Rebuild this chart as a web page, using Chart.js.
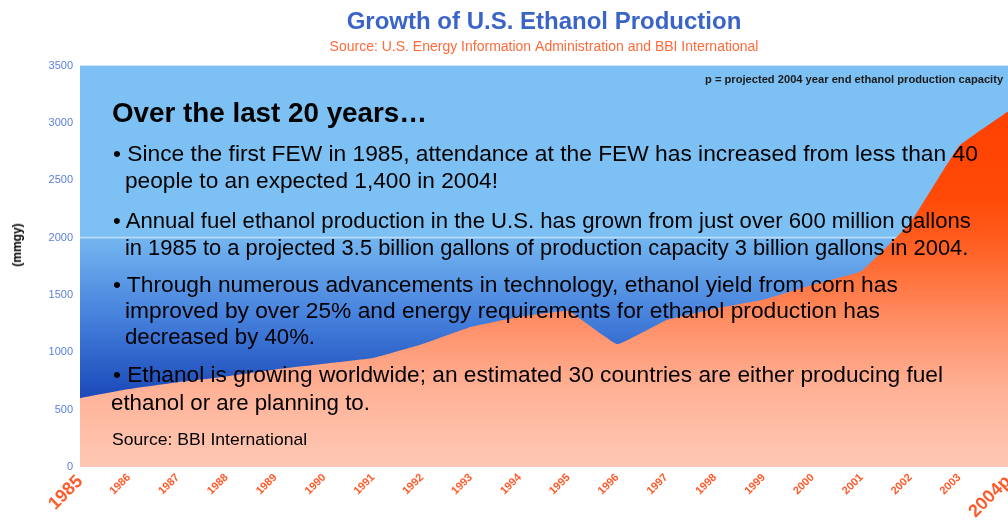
<!DOCTYPE html>
<html>
<head>
<meta charset="utf-8">
<script src="https://cdn.jsdelivr.net/npm/chart.js@4"></script>
<style>
  html, body { margin: 0; padding: 0; background: #fff; }
  #wrap { position: relative; width: 1008px; height: 521px; overflow: hidden;
          font-family: "Liberation Sans", Arial, sans-serif; }
  #wrap canvas { position: absolute; left: 0; top: 0; }
  .txt { position: absolute; white-space: nowrap; color: #000; line-height: 1;
         transform-origin: 0 50%; }
</style>
</head>
<body>
<div id="wrap"><canvas id="chart" width="1008" height="521"></canvas></div>
<script>
// ── data (million gallons per year) ─────────────────────────────────────────
const years = ["1985", "1986", "1987", "1988", "1989", "1990", "1991", "1992", "1993", "1994",
               "1995", "1996", "1997", "1998", "1999", "2000", "2001", "2002", "2003", "2004p"];
const production = [600, 680, 740, 790, 850, 900, 950, 1070, 1220, 1310,
                     1360, 1070, 1280, 1380, 1460, 1590, 1710, 2130, 2800, 3100];
const yMax  = 3500;
const yStep = 500;

const FONT = '"Liberation Sans", Arial, sans-serif';

// text box laid over the plot
const notes = [
  { text: "Over the last 20 years\u2026", left: 112, mid: 113, right: 427, size: 27, bold: true },
  { text: "\u2022 Since the first FEW in 1985, attendance at the FEW has increased from less than 40", left: 113, mid: 153.5, right: 978, size: 22 },
  { text: "people to an expected 1,400 in 2004!", left: 125, mid: 181, right: 498, size: 22 },
  { text: "\u2022 Annual fuel ethanol production in the U.S. has grown from just over 600 million gallons", left: 113, mid: 220.5, right: 971, size: 22 },
  { text: "in 1985 to a projected 3.5 billion gallons of production capacity 3 billion gallons in 2004.", left: 125, mid: 247.5, right: 968, size: 22 },
  { text: "\u2022 Through numerous advancements in technology, ethanol yield from corn has", left: 113, mid: 285, right: 898, size: 22 },
  { text: "improved by over 25% and energy requirements for ethanol production has", left: 125, mid: 311, right: 880, size: 22 },
  { text: "decreased by 40%.", left: 125, mid: 337, right: 315, size: 22 },
  { text: "\u2022 Ethanol is growing worldwide; an estimated 30 countries are either producing fuel", left: 113, mid: 375, right: 943, size: 22 },
  { text: "ethanol or are planning to.", left: 111, mid: 402.5, right: 370, size: 22 },
  { text: "Source: BBI International", left: 112, mid: 439, right: 307, size: 17 },
  { text: "p = projected 2004 year end ethanol production capacity", left: 705, mid: 80, right: 1003, size: 10, bold: true, color: "#1a1a1a" },
];

// sky-blue backdrop, darkening below the 2000 line
const plotBackground = {
  id: "plotBackground",
  beforeDatasetsDraw(chart) {
    const { ctx, chartArea: a, scales: { y } } = chart;
    const split = y.getPixelForValue(2000);
    ctx.save();
    ctx.fillStyle = "#7cc0f4";
    ctx.fillRect(a.left, a.top, a.width, split - a.top);
    const g = ctx.createLinearGradient(0, split, 0, a.bottom);
    g.addColorStop(0,    "#74b6f0");
    g.addColorStop(0.35, "#4580dc");
    g.addColorStop(0.7,  "#1a48b8");
    g.addColorStop(1,    "#1a44b0");
    ctx.fillStyle = g;
    ctx.fillRect(a.left, split, a.width, a.bottom - split);
    ctx.fillStyle = "rgba(255,255,255,0.35)";
    ctx.fillRect(a.left, split - 1, a.width, 2);
    ctx.restore();
  },
};

function orangeFill(c) {
  const chart = c.chart;
  const a = chart.chartArea;
  if (!a) return "#ff8a60";
  const top = chart.scales.y.getPixelForValue(Math.max(...production));
  const g = chart.ctx.createLinearGradient(0, top, 0, a.bottom);
  g.addColorStop(0,    "#ff4000");
  g.addColorStop(0.25, "#ff4a08");
  g.addColorStop(0.4,  "#ff6428");
  g.addColorStop(0.6,  "#ff9068");
  g.addColorStop(0.8,  "#ffb49a");
  g.addColorStop(1,    "#ffc8b4");
  return g;
}

new Chart(document.getElementById("chart"), {
  type: "line",
  data: {
    labels: years,
    datasets: [{
      data:            production,
      fill:            "origin",
      backgroundColor: orangeFill,
      borderWidth:     0,
      pointRadius:     0,
      tension:         0.08,
    }],
  },
  plugins: [plotBackground],
  options: {
    responsive: false,
    animation:  false,
    layout: { padding: { left: 0, right: 0, bottom: 0 } },
    plugins: {
      legend:  { display: false },
      tooltip: { enabled: false },
      title: {
        display:  true,
        fullSize: false,
        text:     "Growth of U.S. Ethanol Production",
        color:    "#3a64c8",
        font:     { family: FONT, size: 24, weight: "bold" },
        padding:  { top: 8, bottom: 2 },
      },
      subtitle: {
        display:  true,
        fullSize: false,
        text:     "Source: U.S. Energy Information Administration and BBI International",
        color:    "#ff6a3a",
        font:     { family: FONT, size: 14 },
        padding:  { top: 0, bottom: 10 },
      },
    },
    scales: {
      x: {
        grid:   { display: false, drawTicks: false },
        border: { display: false },
        ticks: {
          autoSkip:    false,
          minRotation: 45,
          maxRotation: 45,
          padding:     4,
          color:       "#ff5a2a",
          font: (c) => (c.index === 0 || c.index === years.length - 1)
            ? { family: FONT, size: 18, weight: "bold" }
            : { family: FONT, size: 11, weight: "bold" },
        },
        afterFit: (s) => { s.height = 54; s.paddingLeft = 0; s.paddingRight = 0; },
      },
      y: {
        min: 0,
        max: yMax,
        grid:   { display: false, drawTicks: false },
        border: { display: false },
        ticks: {
          stepSize: yStep,
          padding:  7,
          color:    "#5b7fe0",
          font:     { family: FONT, size: 11 },
          callback: (v) => String(v),
        },
        afterFit: (s) => { s.width = 80; },
      },
    },
  },
});

// overlay text, each line stretched to the width it has in the slide
const wrap = document.getElementById("wrap");
notes.forEach((n) => {
  const d = document.createElement("div");
  d.className = "txt";
  d.textContent = n.text;
  d.style.left = n.left + "px";
  d.style.top = (n.mid - 0.488 * n.size) + "px";
  d.style.fontSize = n.size + "px";
  if (n.bold) d.style.fontWeight = "bold";
  if (n.color) d.style.color = n.color;
  wrap.appendChild(d);
  const w = d.getBoundingClientRect().width;
  d.style.transform = `scaleX(${((n.right - n.left) / w).toFixed(3)})`;
});

const yTitle = document.createElement("div");
yTitle.className = "txt";
yTitle.textContent = "(mmgy)";
yTitle.style.fontSize = "12px";
yTitle.style.fontWeight = "bold";
yTitle.style.left = "17px";
yTitle.style.top = "245px";
yTitle.style.transformOrigin = "0 0";
yTitle.style.transform = "rotate(-90deg) translate(-50%, -50%)";
wrap.appendChild(yTitle);
</script>
</body>
</html>
